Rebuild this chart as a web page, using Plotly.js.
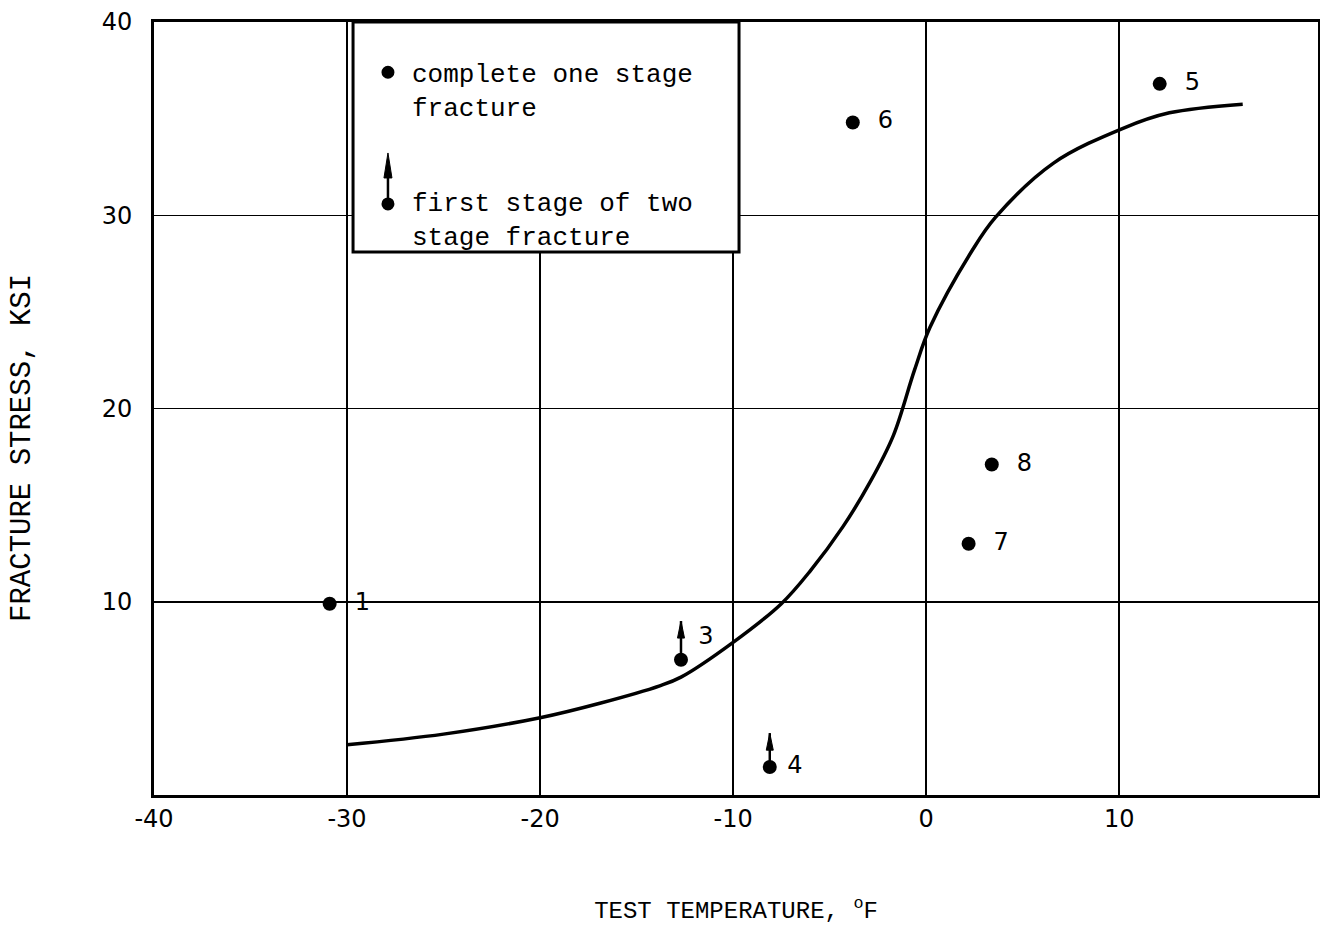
<!DOCTYPE html>
<html><head><meta charset="utf-8">
<script src="https://cdn.plot.ly/plotly-3.0.1.min.js"></script>
<style>html,body{margin:0;padding:0;background:#fff}#chart{width:1320px;height:934px}</style>
</head><body><div id="chart"></div>
<script>
// ---- data ----
const xTickVals = [-40, -30, -20, -10, 0, 10];
const xTickText = ['-40', '-30', '-20', '-10', '0', '10'];
const yTickVals = [10, 20, 30, 40];
const yTickText = ['10', '20', '30', '40'];

// complete one stage fracture
const oneStageLabels = ['1', '5', '6', '7', '8'];
const oneStageTemp = [-30.9, 12.1, -3.8, 2.2, 3.4];
const oneStageStress = [9.9, 36.8, 34.8, 13.0, 17.1];

// first stage of two stage fracture (arrow = stress is a lower bound)
const twoStageLabels = ['3', '4'];
const twoStageTemp = [-12.7, -8.1];
const twoStageStress = [7.0, 1.45];
const twoStageArrowTop = [9.0, 3.2];

// transition curve
const curveTemp = [-30, -25, -20, -16.9, -13.8, -12.7, -10, -7.5, -6.0, -4.3, -2.9, -1.7, -0.6, 0.2, 2.4, 3.6, 6.6, 10.2, 12.6, 16.4];
const curveStress = [2.6, 3.15, 4.0, 4.75, 5.65, 6.1, 7.9, 9.9, 11.6, 13.9, 16.2, 18.6, 22.0, 24.2, 28.2, 29.9, 32.7, 34.5, 35.3, 35.75];

const legendText1 = 'complete one stage<br>fracture';
const legendText2 = 'first stage of two<br>stage fracture';
const xTitle = 'TEST TEMPERATURE, <sup>o</sup>F';
const yTitle = 'FRACTURE STRESS, KSI';

// ---- styles ----
const mono = 'Liberation Mono, Courier New, monospace';
const numFont = {family: 'DejaVu Sans, sans-serif', size: 24, color: '#000'};

const traces = [
  {
    x: curveTemp, y: curveStress, type: 'scatter', mode: 'lines',
    line: {color: '#000', width: 3.5, shape: 'spline', smoothing: 1.0},
    hoverinfo: 'skip', showlegend: false
  },
  {
    x: oneStageTemp, y: oneStageStress, type: 'scatter', mode: 'markers+text',
    text: oneStageLabels.map(t => '  ' + t), textposition: 'middle right',
    textfont: numFont,
    marker: {color: '#000', size: 14, symbol: 'circle'},
    showlegend: false, cliponaxis: false
  },
  {
    x: twoStageTemp, y: twoStageStress, type: 'scatter', mode: 'markers+text',
    text: twoStageLabels.map(t => ' ' + t), textposition: ['top right', 'middle right'],
    textfont: numFont,
    marker: {color: '#000', size: 14, symbol: 'circle'},
    showlegend: false, cliponaxis: false
  }
];

const shapes = [];
// arrows on the two-stage points
twoStageTemp.forEach((t, i) => {
  shapes.push({type: 'line', xref: 'x', yref: 'y', x0: t, x1: t, y0: twoStageStress[i], y1: twoStageArrowTop[i],
    line: {color: '#000', width: 2.5}, layer: 'above'});
  shapes.push({type: 'path', xref: 'x', yref: 'y', xsizemode: 'pixel', ysizemode: 'pixel',
    xanchor: t, yanchor: twoStageArrowTop[i], path: 'M-3.5,-17 L0,0 L3.5,-17 Z',
    fillcolor: '#000', line: {color: '#000', width: 1}, layer: 'above'});
});
// legend box
shapes.push({type: 'rect', xref: 'paper', yref: 'paper', x0: 0.171, x1: 0.5026, y0: 0.7025, y1: 1.0,
  fillcolor: '#fff', line: {color: '#000', width: 3}, layer: 'above'});
shapes.push({type: 'circle', xref: 'paper', yref: 'paper', xsizemode: 'pixel', ysizemode: 'pixel',
  xanchor: 0.201, yanchor: 0.935, x0: -6.5, x1: 6.5, y0: -6.5, y1: 6.5,
  fillcolor: '#000', line: {color: '#000', width: 0}, layer: 'above'});
shapes.push({type: 'circle', xref: 'paper', yref: 'paper', xsizemode: 'pixel', ysizemode: 'pixel',
  xanchor: 0.201, yanchor: 0.7646, x0: -6.5, x1: 6.5, y0: -6.5, y1: 6.5,
  fillcolor: '#000', line: {color: '#000', width: 0}, layer: 'above'});
shapes.push({type: 'path', xref: 'paper', yref: 'paper', xsizemode: 'pixel', ysizemode: 'pixel',
  xanchor: 0.201, yanchor: 0.7646, path: 'M0,0 L0,30',
  line: {color: '#000', width: 2.5}, layer: 'above'});
shapes.push({type: 'path', xref: 'paper', yref: 'paper', xsizemode: 'pixel', ysizemode: 'pixel',
  xanchor: 0.201, yanchor: 0.7646, path: 'M-4,26 L0,51 L4,26 Z',
  fillcolor: '#000', line: {color: '#000', width: 1}, layer: 'above'});

const annotations = [
  {xref: 'paper', yref: 'paper', x: 0.2199, y: 0.9088, xanchor: 'left', yanchor: 'middle', align: 'left',
   text: legendText1, showarrow: false, font: {family: mono, size: 26, color: '#000'}},
  {xref: 'paper', yref: 'paper', x: 0.2199, y: 0.7426, xanchor: 'left', yanchor: 'middle', align: 'left',
   text: legendText2, showarrow: false, font: {family: mono, size: 26, color: '#000'}},
  {xref: 'paper', yref: 'paper', x: -0.1125, y: 0.449, xanchor: 'center', yanchor: 'middle',
   text: yTitle, textangle: -90, showarrow: false, font: {family: mono, size: 29, color: '#000'}}
];

const layout = {
  width: 1320, height: 934,
  margin: {l: 154, r: 2, t: 22, b: 139},
  paper_bgcolor: '#fff', plot_bgcolor: '#fff',
  showlegend: false,
  xaxis: {
    range: [-40, 20.3], tickvals: xTickVals, ticktext: xTickText,
    showgrid: true, gridcolor: '#000', gridwidth: 1.5, zeroline: false,
    showline: true, linecolor: '#000', linewidth: 3, mirror: true,
    ticks: '', tickfont: numFont, ticklabelstandoff: 0,
    title: {text: xTitle, font: {family: mono, size: 24, color: '#000'}, standoff: 70}
  },
  yaxis: {
    range: [0, 40], tickvals: yTickVals, ticktext: yTickText,
    showgrid: true, gridcolor: '#000', gridwidth: 1.5, zeroline: false,
    showline: true, linecolor: '#000', linewidth: 3, mirror: true,
    ticks: '', tickfont: numFont, ticklabelstandoff: 14
  },
  shapes: shapes,
  annotations: annotations
};

Plotly.newPlot('chart', traces, layout, {displayModeBar: false, staticPlot: true});
</script>
</body></html>
